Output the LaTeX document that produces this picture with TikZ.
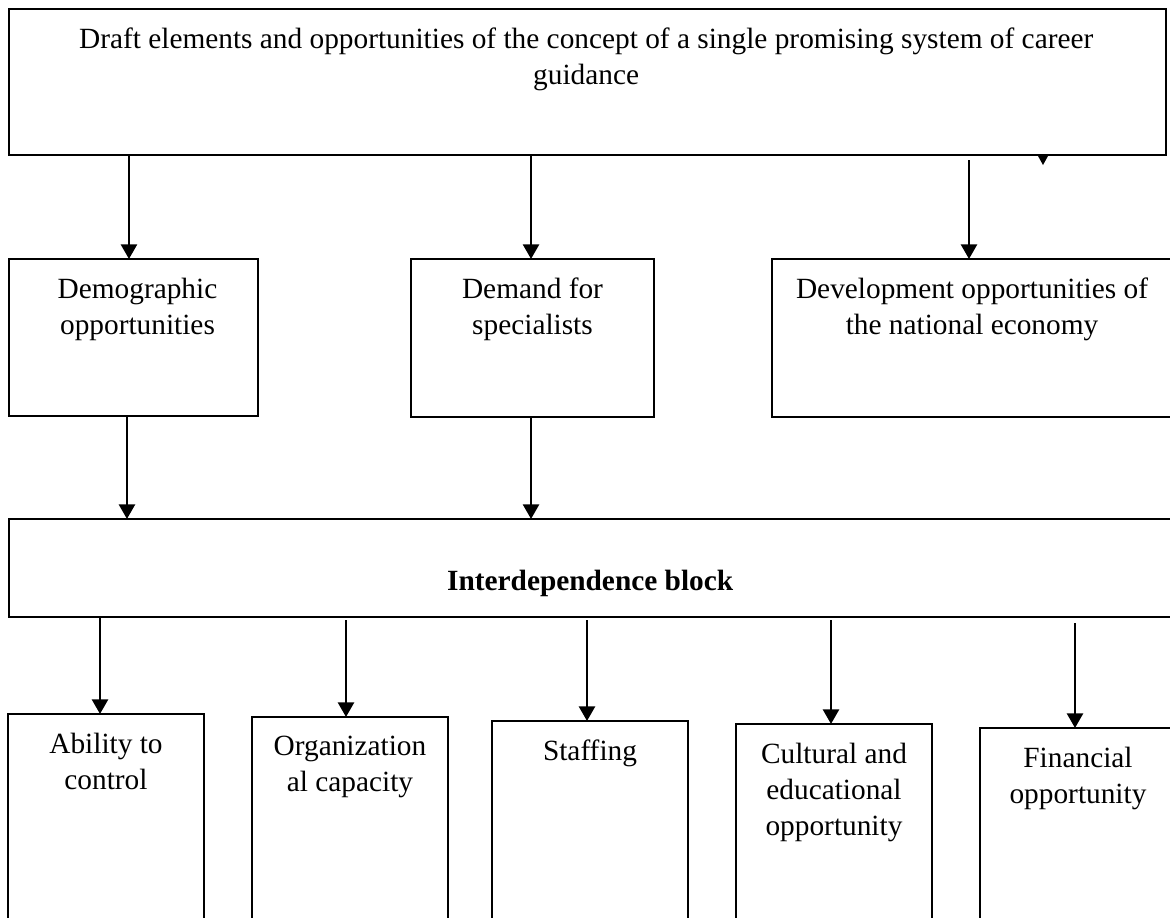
\documentclass[tikz,border=0pt]{standalone}
\usepackage{fontspec}
\setmainfont{Liberation Serif}
\usetikzlibrary{arrows.meta, positioning}

\tikzset{
  box/.style={draw, line width=0.8pt, inner sep=0pt, outer sep=0pt},
  txt/.style={align=center, inner sep=0pt, anchor=north, font=\fontsize{22}{27}\selectfont},
  link/.style={line width=2pt, -{Triangle[width=12pt, length=11pt]}}
}

\begin{document}
\begin{tikzpicture}[x=0.75pt, y=-0.75pt]
\clip (0,0) rectangle (1170,917);

% boxes
\path (587.5,82) node[box, minimum width=867.75pt, minimum height=109.5pt] (top) {}
      (133.5,337.5) node[box, minimum width=186.75pt, minimum height=117.75pt] (demo) {}
      (532.5,338) node[box, minimum width=182.25pt, minimum height=118.5pt] (demand) {}
      (981,338) node[box, minimum width=313.5pt, minimum height=118.5pt] (devel) {}
      (599.5,568) node[box, minimum width=885.75pt, minimum height=73.5pt] (inter) {}
      (106,827) node[box, minimum width=147pt, minimum height=169.5pt] (ctrl) {}
      (350,828.5) node[box, minimum width=147pt, minimum height=167.25pt] (org) {}
      (590,830.5) node[box, minimum width=147pt, minimum height=164.25pt] (staff) {}
      (834,832) node[box, minimum width=147pt, minimum height=162pt] (cult) {}
      (1085,834) node[box, minimum width=157.5pt, minimum height=159pt] (fin) {};

% texts
\node[txt, below=14pt of top.north, xshift=-1pt] (ttop) {Draft elements and opportunities of the concept of a single promising system of career\\guidance};
\node[txt, below=14pt of demo.north, xshift=3pt] (tdemo) {Demographic\\opportunities};
\node[txt, below=14pt of demand.north] (tdemand) {Demand for\\specialists};
\node[txt, below=14pt of devel.north, xshift=-6.75pt] (tdevel) {Development opportunities of\\the national economy};
\node[txt, below=38pt of inter.north, xshift=-7pt, font=\fontsize{22}{27}\selectfont\bfseries] (tinter) {Interdependence block};
\node[txt, below=14pt of ctrl.north] (tctrl) {Ability to\\control};
\node[txt, below=14pt of org.north] (torg) {Organization\\al capacity};
\node[txt, below=14pt of staff.north] (tstaff) {Staffing};
\node[txt, below=14pt of cult.north] (tcult) {Cultural and\\educational\\opportunity};
\node[txt, below=14pt of fin.north, xshift=-5.25pt] (tfin) {Financial\\opportunity};

% arrows
\draw[link] ([xshift=-3.4pt]demo.north |- top.south) to ([xshift=-3.4pt]demo.north);
\draw[link] ([xshift=-1.1pt]demand.north |- top.south) to ([xshift=-1.1pt]demand.north);
\draw[link] ([xshift=-9pt, yshift=-3.75pt]devel.north |- top.south) to ([xshift=-9pt]devel.north);
\draw[link] ([xshift=-4.9pt]demo.south) to ([xshift=-4.9pt]demo.south |- inter.north);
\draw[link] ([xshift=-1.1pt]demand.south) to ([xshift=-1.1pt]demand.south |- inter.north);

\draw[link] ([xshift=-4.5pt]ctrl.north |- inter.south) to ([xshift=-4.5pt]ctrl.north);
\draw[link] ([xshift=-3pt, yshift=-2.25pt]org.north |- inter.south) to ([xshift=-3pt]org.north);
\draw[link] ([xshift=-2.25pt, yshift=-2.25pt]staff.north |- inter.south) to ([xshift=-2.25pt]staff.north);
\draw[link] ([xshift=-2.25pt, yshift=-2.25pt]cult.north |- inter.south) to ([xshift=-2.25pt]cult.north);
\draw[link] ([xshift=-7.5pt, yshift=-4.5pt]fin.north |- inter.south) to ([xshift=-7.5pt]fin.north);

% stray tip under the top box
\fill (1038,156) -- (1048,156) -- (1043,165) -- cycle;
\end{tikzpicture}
\end{document}
